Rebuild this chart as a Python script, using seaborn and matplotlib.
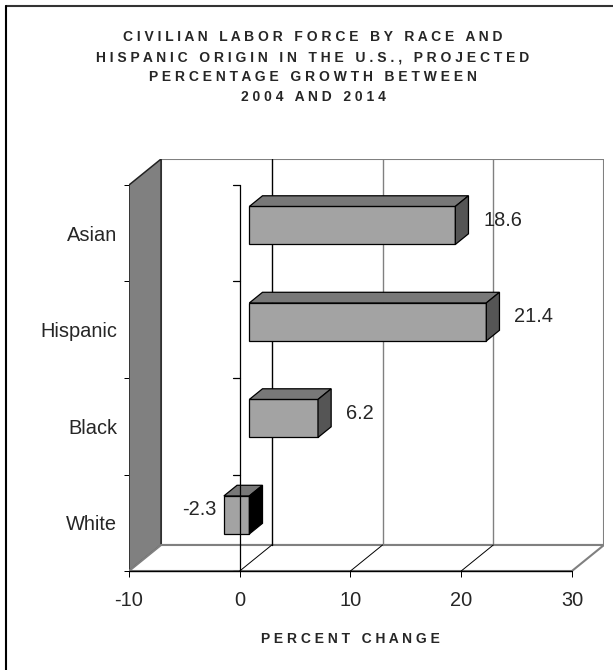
import numpy as np
import pandas as pd
import seaborn as sns
import matplotlib.pyplot as plt
import matplotlib.transforms as mtransforms
from matplotlib.patches import Polygon
from matplotlib.lines import Line2D

# data
categories = ["Asian", "Hispanic", "Black", "White"]
values = [18.6, 21.4, 6.2, -2.3]
x_ticks = [-10, 0, 10, 20, 30]
title_lines = [
    "CIVILIAN LABOR FORCE BY RACE AND",
    "HISPANIC ORIGIN IN THE U.S., PROJECTED",
    "PERCENTAGE GROWTH BETWEEN",
    "2004 AND 2014",
]
x_label = "PERCENT CHANGE"


def spaced(s):
    # imitate Excel character spacing
    return "   ".join(" ".join(w) for w in s.split())


sns.set_style("white")
plt.rcParams["font.family"] = ["Liberation Sans", "DejaVu Sans"]

W, H = 613, 670
fig = plt.figure(figsize=(W / 100, H / 100), dpi=100)
ax = fig.add_axes([129 / W, (H - 571) / H, (604 - 129) / W, (571 - 159) / H])

xmin, xmax = x_ticks[0], x_ticks[-1]
n = len(categories)
DX = (xmax - xmin) * 32 / 442  # depth of the 3d box in data units
DY = n * 26 / 386
F, D = 0.3, 0.41  # bar front position and bar depth (fraction of box depth)

df = pd.DataFrame({"race": categories, "change": values})
sns.barplot(data=df, x="change", y="race", orient="h", width=0.394,
            color="#a3a3a3", saturation=1, edgecolor="black", linewidth=0.9,
            ax=ax, zorder=4)
bars = list(ax.patches)

ax.set_xlim(xmin, xmax + DX)
ax.set_ylim(n - 0.5, -0.5 - DY)
for s in ax.spines.values():
    s.set_visible(False)
ax.patch.set_visible(False)
ax.set_xlabel("")
ax.set_ylabel("")

top_y, bot_y = -0.5, n - 0.5

# left wall
ax.add_patch(Polygon([(xmin, top_y), (xmin + DX, top_y - DY), (xmin + DX, bot_y - DY), (xmin, bot_y)],
                     facecolor="#808080", edgecolor="#222222", lw=1.1, zorder=1))
# back wall
ax.add_patch(Polygon([(xmin + DX, top_y - DY), (xmax + DX, top_y - DY), (xmax + DX, bot_y - DY), (xmin + DX, bot_y - DY)],
                     facecolor="white", edgecolor="#808080", lw=1.5, zorder=0))
# floor
ax.add_patch(Polygon([(xmin, bot_y), (xmax, bot_y), (xmax + DX, bot_y - DY), (xmin + DX, bot_y - DY)],
                     facecolor="white", edgecolor="#808080", lw=1.5, zorder=1))

for t in x_ticks[1:-1]:
    ax.plot([t + DX, t + DX], [top_y - DY, bot_y - DY], color="black" if t == 0 else "#808080",
            lw=1.0, zorder=2)
    ax.plot([t, t + DX], [bot_y, bot_y - DY], color="black", lw=0.7, zorder=2)

# front axes lines
ax.plot([xmin, xmax], [bot_y, bot_y], color="black", lw=1.0, zorder=5, clip_on=False)
ax.plot([0, 0], [top_y, bot_y], color="black", lw=0.9, zorder=5)
tick_len = 7 * (xmax - xmin) / 442
for b in np.arange(top_y, bot_y + 0.01, 1):
    ax.plot([-tick_len, 0], [b, b], color="black", lw=0.9, zorder=5)

# 3d faces for each bar
for p, v in zip(bars, values):
    x0, y0, w, h = p.get_x(), p.get_y(), p.get_width(), p.get_height()
    p.set_x(x0 + F * DX)
    p.set_y(y0 - F * DY)
    xa, xb = sorted([x0 + F * DX, x0 + w + F * DX])
    yt = y0 - F * DY
    yb = yt + h
    ax.add_patch(Polygon([(xa, yt), (xb, yt), (xb + D * DX, yt - D * DY), (xa + D * DX, yt - D * DY)],
                         facecolor="#787878", edgecolor="black", lw=0.9, zorder=4))
    ax.add_patch(Polygon([(xb, yt), (xb + D * DX, yt - D * DY), (xb + D * DX, yb - D * DY), (xb, yb)],
                         facecolor="#555555" if v > 0 else "black", edgecolor="black", lw=0.9, zorder=4))
    ymid = (yt + yb) / 2 - D * DY / 2
    if v > 0:
        ax.annotate(f"{v}", xy=(xb + D * DX, ymid), xytext=(10.8, 0), textcoords="offset points",
                    ha="left", va="center", fontsize=14.4)
    else:
        ax.annotate(f"{v}", xy=(xa, ymid), xytext=(-5, 0), textcoords="offset points",
                    ha="right", va="center", fontsize=14.4)

ax.set_xticks(x_ticks)
ax.set_xticklabels([str(t) for t in x_ticks])
ax.tick_params(axis="x", length=4.3, width=0.72, color="black", direction="out",
               pad=10, labelsize=14.4, bottom=True)
ax.set_yticks(range(n))
ax.set_yticklabels(categories)
ax.set_yticks(np.arange(top_y, bot_y + 0.01, 1), minor=True)
ax.tick_params(axis="y", which="major", length=0, pad=8.6, labelsize=14.4)
ax.tick_params(axis="y", which="minor", length=3.6, width=0.72, color="black",
               direction="out", left=True)

# titles
for i, line in enumerate(title_lines):
    fig.text(313 / W, 1 - (41 + 20 * i) / H, spaced(line), ha="center", va="baseline",
             fontsize=10, fontweight="bold")
trans = mtransforms.blended_transform_factory(ax.transData, fig.transFigure)
ax.text((xmin + xmax) / 2, 1 - 643 / H, spaced(x_label), transform=trans, ha="center",
        va="baseline", fontsize=10, fontweight="bold")

# outer frame (only top and left visible in the crop)
fig.add_artist(Line2D([6 / W, 1], [1 - 6 / H, 1 - 6 / H], color="#333333", lw=1.5))
fig.add_artist(Line2D([6 / W, 6 / W], [1 - 6 / H, 0], color="black", lw=1.5))

fig.savefig("out.png", dpi=100)
